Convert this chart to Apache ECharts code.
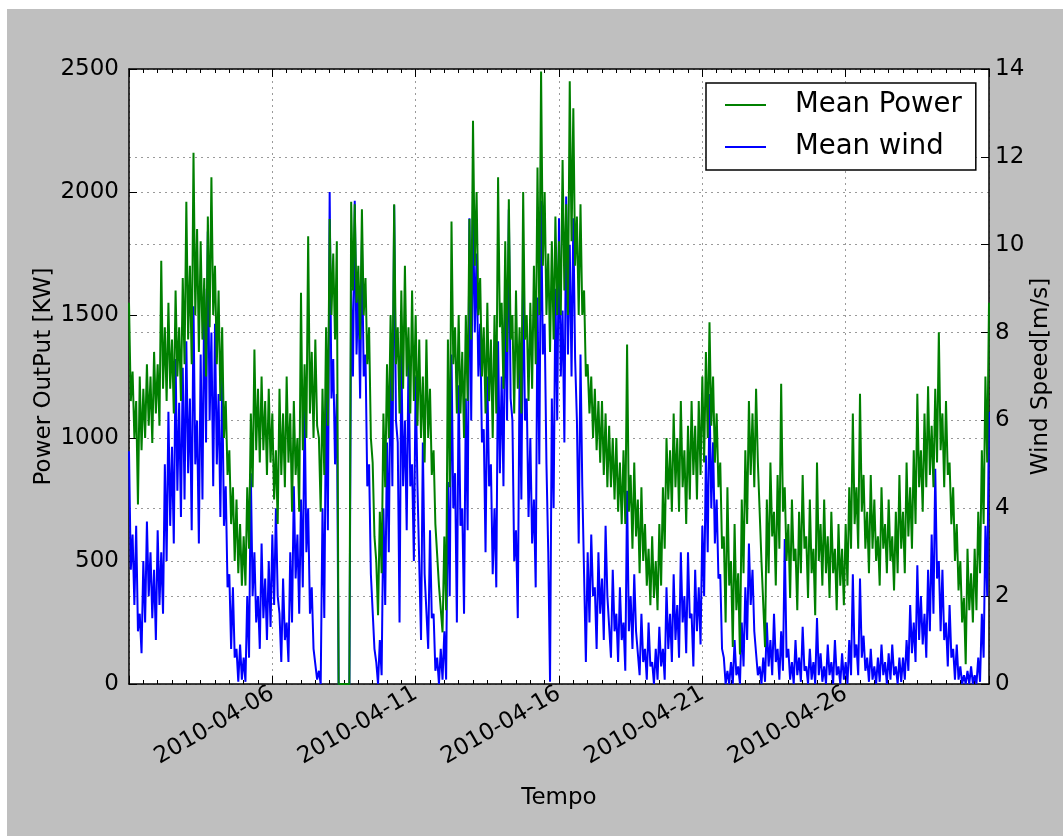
<!DOCTYPE html>
<html>
<head>
<meta charset="utf-8">
<script src="https://cdn.jsdelivr.net/npm/echarts@6/dist/echarts.min.js"></script>
<style>
  html, body { margin: 0; padding: 0; background: #ffffff; }
  #bg { position: absolute; left: 7px; top: 9px; width: 1056px; height: 827px; background: #bfbfbf; }
  #chart { position: absolute; left: 0; top: 0; width: 1063px; height: 836px; }
</style>
</head>
<body>
<div id="bg"></div>
<div id="chart"></div>
<script>
// Sampling: one value every 1.5 hours starting 2010-04-01 00:00 (16 per day);
// within each 3-hour slot the first value is the upper edge of the noisy band, the second the lower edge.
const startDate = '2010-04-01';
const sampleStepHours = 1.5;

// Tick labels of the bottom axis (days since 2010-04-01 -> label)
const xTickDays = [5, 10, 15, 20, 25];
const xTickLabels = ['2010-04-06', '2010-04-11', '2010-04-16', '2010-04-21', '2010-04-26'];

// Green line, "Mean Power" (left axis, kW)
const meanPower = [
  1550,1150, 1270,1000, 1150,730, 1250,950, 1200,1000, 1300,1050, 1250,980, 1350,1100,        // Apr 1
  1300,1050, 1720,1200, 1450,1150, 1550,1200, 1400,1100, 1600,1250, 1450,1150, 1650,1300,     // Apr 2
  1960,1400, 1700,1300, 2160,1500, 1850,1350, 1800,1400, 1650,1250, 1900,1450, 2060,1500,     // Apr 3
  1700,1300, 1600,1150, 1450,1000, 1150,850, 950,650, 800,500, 750,450, 650,400,              // Apr 4
  600,400, 800,550, 1100,800, 1360,950, 1200,900, 1250,950, 1150,850, 1200,900,               // Apr 5
  1100,750, 950,650, 1200,850, 1100,800, 1250,900, 1100,700, 1150,850, 1000,700,              // Apr 6
  1590,950, 1300,1000, 1820,1100, 1350,1000, 1400,1050, 1000,700, 1200,850, 1450,1050,        // Apr 7
  1890,1500, 1750,1400, 1800,0, 0,0, 0,0, 0,0, 1960,1600, 1950,1550,                         // Apr 8
  1700,1400, 1930,1500, 1650,1300, 1450,1000, 900,600, 500,280, 700,450, 1100,800,            // Apr 9
  1300,1000, 1500,1150, 1950,1300, 1450,1100, 1600,1200, 1700,1250, 1450,1100, 1600,1150,     // Apr 10
  1500,1050, 1400,1000, 1250,900, 1400,1000, 1200,850, 950,650, 650,400, 400,210,             // Apr 11
  600,300, 1400,800, 1880,1300, 1450,1100, 1500,1100, 1350,1000, 1500,1150, 1890,1400,        // Apr 12
  2290,1700, 2000,1500, 1650,1250, 1450,1100, 1550,1150, 1400,1000, 1500,1100, 2060,1450,     // Apr 13
  1550,1200, 1800,1350, 1970,1400, 1500,1100, 1600,1200, 1450,1100, 2000,1400, 1500,1150,     // Apr 14
  1550,1200, 1700,1300, 2100,1500, 2490,1700, 2000,1500, 1750,1350, 1800,1400, 1900,1500,     // Apr 15
  1800,1500, 2130,1600, 1950,1500, 2450,1800, 2340,1700, 1900,1500, 1950,1500, 1600,1250,     // Apr 16
  1300,1100, 1250,1000, 1200,950, 1150,900, 1150,850, 1100,800, 1050,800, 1000,750,           // Apr 17
  1000,700, 900,650, 950,650, 1380,700, 850,550, 900,600, 750,450, 800,500,                   // Apr 18
  650,400, 550,320, 600,350, 500,300, 650,400, 800,550, 1000,750, 950,700,                    // Apr 19
  1100,800, 1000,700, 1150,800, 950,650, 1050,750, 1150,850, 1050,750, 1150,850,              // Apr 20
  1250,900, 1350,1000, 1470,1050, 1250,900, 1100,800, 900,550, 600,250, 800,400,              // Apr 21
  500,150, 650,300, 450,120, 750,450, 950,650, 1150,850, 1100,800, 1200,900,                  // Apr 22
  900,500, 500,150, 750,450, 900,600, 700,400, 850,550, 1220,700, 800,500,                    // Apr 23
  650,350, 750,500, 550,300, 700,450, 850,550, 600,350, 750,450, 550,280,                     // Apr 24
  900,500, 650,400, 750,450, 600,350, 700,450, 550,300, 650,400, 550,320,                     // Apr 25
  650,400, 800,550, 1100,650, 800,550, 1180,700, 850,550, 700,450, 850,550,                   // Apr 26
  750,500, 600,400, 800,550, 650,450, 750,500, 600,380, 700,450, 850,550,                     // Apr 27
  700,450, 900,600, 800,550, 950,650, 1180,800, 950,700, 1100,800, 1210,850,                  // Apr 28
  1050,800, 1200,900, 1430,950, 1100,800, 1150,850, 900,650, 800,500, 650,380,                // Apr 29
  500,250, 350,80, 550,300, 450,250, 550,300, 700,450, 950,650, 1250,900,                     // Apr 30
  1550                                                                                        // May 1 00:00
];

// Blue line, "Mean wind" (right axis, m/s)
const meanWind = [
  5.3,2.6, 3.4,1.8, 3.6,1.2, 1.6,0.7, 2.8,1.4, 3.7,2.0, 3.0,1.5, 2.6,1.0,       // Apr 1
  3.5,1.8, 3.0,1.6, 5.0,2.8, 6.2,3.6, 5.4,3.2, 7.4,4.4, 6.4,3.8, 7.2,4.2,       // Apr 2
  7.8,4.8, 6.5,3.5, 8.6,5.0, 6.0,3.2, 7.5,4.2, 9.0,5.5, 10.3,6.0, 8.0,4.5,      // Apr 3
  8.2,5.0, 6.6,3.8, 7.0,3.6, 4.5,2.2, 2.5,0.8, 2.2,0.6, 0.8,0.05, 0.9,0.1,      // Apr 4
  0.6,0.05, 2.0,0.6, 4.8,2.0, 3.0,1.4, 2.0,0.8, 3.2,1.5, 2.4,1.0, 2.8,1.3,      // Apr 5
  3.4,1.8, 4.0,2.0, 1.6,0.5, 2.4,1.0, 1.4,0.5, 3.0,1.4, 4.5,2.4, 3.4,1.6,       // Apr 6
  4.2,2.2, 6.5,3.0, 4.0,1.6, 2.2,0.8, 0.8,0.1, 0.3,0, 4.0,1.5, 6.8,3.5,         // Apr 7
  11.2,6.5, 7.4,5.0, 6.6,0, 0,0, 0,0, 0,0, 9.0,7.0, 11.0,7.5,                   // Apr 8
  9.0,6.5, 10.1,7.0, 7.5,4.5, 5.0,2.5, 2.5,0.8, 0.5,0, 1.0,0.2, 4.0,1.8,        // Apr 9
  5.5,3.0, 7.4,4.5, 10.9,6.0, 5.5,1.4, 7.6,4.5, 6.0,3.5, 7.4,4.5, 5.0,2.8,      // Apr 10
  7.0,4.5, 4.5,1.0, 5.5,2.5, 2.5,0.8, 3.5,1.5, 1.6,0.3, 0.6,0, 0.8,0.1,         // Apr 11
  1.2,0.1, 4.6,2.0, 7.5,4.0, 4.8,1.4, 6.8,3.6, 4.0,1.6, 6.5,3.5, 10.6,6.0,      // Apr 12
  11.0,8.0, 9.8,7.0, 8.2,5.5, 5.8,3.0, 7.0,4.5, 5.0,2.5, 4.0,2.2, 7.8,4.8,      // Apr 13
  7.0,4.5, 9.0,6.0, 10.8,6.5, 6.0,2.8, 3.5,1.5, 7.2,4.2, 9.6,6.0, 6.5,3.8,      // Apr 14
  5.6,3.2, 4.2,2.2, 8.8,5.0, 11.0,7.5, 8.2,5.0, 3.0,0.05, 6.5,4.0, 9.0,6.0,     // Apr 15
  10.6,7.0, 8.5,5.5, 11.1,7.5, 10.0,7.0, 10.6,7.4, 6.0,3.2, 7.5,4.5, 2.5,0.5,   // Apr 16
  3.0,1.4, 3.4,2.0, 2.2,0.8, 3.0,1.6, 2.4,1.0, 3.6,2.0, 2.0,0.6, 2.6,1.2,       // Apr 17
  1.6,0.5, 2.2,1.0, 1.4,0.3, 4.4,1.2, 2.0,0.8, 2.5,1.2, 1.2,0.2, 1.6,0.5,       // Apr 18
  0.8,0.1, 1.4,0.4, 0.5,0, 0.8,0.1, 1.3,0.4, 0.8,0.1, 2.2,0.8, 1.6,0.5,         // Apr 19
  2.5,1.0, 1.8,0.6, 3.0,1.4, 2.0,0.7, 3.0,1.5, 1.6,0.4, 2.6,1.2, 2.2,0.9,       // Apr 20
  3.6,2.0, 5.2,3.0, 6.6,4.0, 5.5,3.2, 4.2,2.4, 2.5,0.8, 0.6,0, 0.3,0,           // Apr 21
  0.5,0, 1.0,0.2, 0.4,0, 1.4,0.4, 2.2,1.0, 3.2,1.8, 2.6,1.2, 1.2,0.2,           // Apr 22
  0.4,0, 0.6,0.05, 1.4,0.4, 1.0,0.2, 1.6,0.5, 0.8,0.1, 1.2,0.3, 3.3,0.6,        // Apr 23
  0.8,0.1, 0.5,0, 1.0,0.2, 0.6,0.05, 1.3,0.3, 0.4,0, 0.8,0.1, 0.5,0,            // Apr 24
  1.5,0.2, 0.7,0.05, 0.4,0, 0.9,0.2, 0.5,0, 1.0,0.2, 0.4,0, 0.7,0.1,            // Apr 25
  0.5,0, 1.0,0.2, 2.5,0.6, 0.9,0.2, 2.4,0.6, 1.1,0.3, 0.6,0.05, 0.8,0.1,        // Apr 26
  0.4,0, 0.6,0.05, 0.9,0.2, 0.5,0, 0.7,0.1, 0.9,0.2, 0.4,0, 0.6,0.05,           // Apr 27
  0.6,0.1, 1.0,0.3, 1.8,0.7, 1.4,0.5, 2.7,1.0, 2.0,0.9, 1.6,0.6, 2.6,1.2,       // Apr 28
  3.4,1.6, 4.9,2.4, 2.8,1.2, 2.6,1.0, 1.4,0.4, 1.8,0.6, 0.8,0.1, 0.9,0.1,       // Apr 29
  0.4,0, 0.2,0, 0.3,0, 0.4,0, 0.2,0, 0.6,0.05, 1.6,0.6, 3.6,2.0,                // Apr 30
  6.2                                                                           // May 1 00:00
];

const FONT = 'DejaVu Sans';
const dayOf = (i) => i * sampleStepHours / 24;
const powerData = meanPower.map((v, i) => [dayOf(i), v]);
const windData = meanWind.map((v, i) => [dayOf(i), v]);

const chart = echarts.init(document.getElementById('chart'), null, { renderer: 'canvas' });

const commonX = {
  type: 'value', min: 0, max: 30, interval: 5,
  axisLine: { onZero: false, lineStyle: { color: '#000', width: 1.5 } },
  axisTick: { inside: true, length: 8, lineStyle: { color: '#000', width: 1 } },
  minorTick: { show: true, splitNumber: 10, length: 4, lineStyle: { color: '#000', width: 1 } }
};
const gridDots = { show: true, lineStyle: { color: '#9a9a9a', width: 1, type: [2, 4] } };

chart.setOption({
  animation: false,
  textStyle: { fontFamily: FONT },
  grid: { left: 129, top: 69, width: 860, height: 615, show: true, backgroundColor: '#ffffff', borderWidth: 0 },
  legend: {
    data: ['Mean Power', 'Mean wind'],
    orient: 'vertical', left: 706, top: 83,
    icon: 'rect',
    backgroundColor: '#ffffff', borderColor: '#000', borderWidth: 1.5, borderRadius: 0,
    padding: [7, 14, 8, 19], itemGap: 12, itemWidth: 41, itemHeight: 2,
    textStyle: { fontFamily: FONT, fontSize: 27.5, color: '#000', lineHeight: 30, padding: [0, 0, 0, 24] }
  },
  xAxis: [
    Object.assign({}, commonX, {
      position: 'bottom',
      name: 'Tempo', nameLocation: 'middle', nameGap: 103,
      nameTextStyle: { fontFamily: FONT, fontSize: 23, color: '#000' },
      axisLabel: {
        rotate: 30, margin: 8, fontFamily: FONT, fontSize: 23, color: '#000',
        showMinLabel: false, showMaxLabel: false,
        formatter: (v) => { const k = xTickDays.indexOf(Math.round(v)); return k >= 0 ? xTickLabels[k] : ''; }
      },
      splitLine: gridDots
    }),
    Object.assign({}, commonX, {
      position: 'top',
      axisLabel: { show: false },
      splitLine: { show: false }
    })
  ],
  yAxis: [
    {
      type: 'value', min: 0, max: 2500, interval: 500, position: 'left',
      name: 'Power OutPut [KW]', nameLocation: 'middle', nameGap: 73, nameRotate: 90,
      nameMoveOverlap: false,
      nameTextStyle: { fontFamily: FONT, fontSize: 23, color: '#000' },
      axisLine: { show: true, onZero: false, lineStyle: { color: '#000', width: 1.5 } },
      axisTick: { show: true, inside: true, length: 8, lineStyle: { color: '#000', width: 1 } },
      axisLabel: { margin: 10, fontFamily: FONT, fontSize: 23, color: '#000', formatter: (v) => String(v) },
      splitLine: gridDots
    },
    {
      type: 'value', min: 0, max: 14, interval: 2, position: 'right',
      name: 'Wind Speed[m/s]', nameLocation: 'middle', nameGap: 41, nameRotate: 90,
      nameMoveOverlap: false,
      nameTextStyle: { fontFamily: FONT, fontSize: 23, color: '#000' },
      axisLine: { show: true, onZero: false, lineStyle: { color: '#000', width: 1.5 } },
      axisTick: { show: true, inside: true, length: 8, lineStyle: { color: '#000', width: 1 } },
      axisLabel: { margin: 6, fontFamily: FONT, fontSize: 23, color: '#000', formatter: (v) => String(v) },
      splitLine: gridDots
    }
  ],
  series: [
    {
      name: 'Mean wind', type: 'line', xAxisIndex: 0, yAxisIndex: 1,
      data: windData, symbol: 'none', showSymbol: false,
      lineStyle: { color: '#0000ff', width: 2 }, itemStyle: { color: '#0000ff' }
    },
    {
      name: 'Mean Power', type: 'line', xAxisIndex: 0, yAxisIndex: 0,
      data: powerData, symbol: 'none', showSymbol: false,
      lineStyle: { color: '#008000', width: 2 }, itemStyle: { color: '#008000' }
    }
  ]
});
</script>
</body>
</html>
